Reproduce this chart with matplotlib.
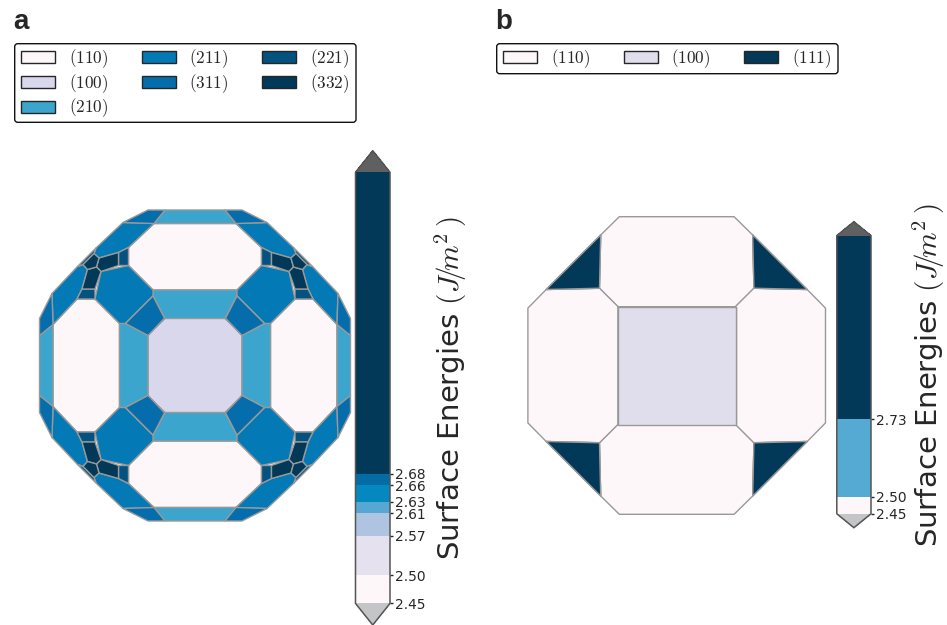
import matplotlib
matplotlib.use("Agg")
import matplotlib.pyplot as plt
from matplotlib.patches import Patch, Polygon, FancyBboxPatch
from matplotlib.colors import ListedColormap, BoundaryNorm
from matplotlib.cm import ScalarMappable
from matplotlib.transforms import IdentityTransform

plt.rcParams['mathtext.fontset'] = 'cm'
plt.rcParams['font.family'] = 'DejaVu Sans'

W, H = 947, 625
INK = '#262626'
EDGE = '#999999'

# Facet colours
C110 = '#FDF7FA'
C100A = '#D8D7EB'
C100B = '#E0DEEC'
C210 = '#3BA5CD'
C211 = '#037AB6'
C311 = '#056DAB'
C221 = '#03527F'
C332 = '#023858'
C111 = '#023858'

# Panel a facets: one representative of each facet (upper-left region),
# the others follow from the mirror symmetry of the crystal shape.
a_faces = [
    (C110, [(-41, 142), (41, 142), (66.5, 118), (66.5, 100), (42, 75.5), (-42, 75.5), (-66.5, 100), (-66.5, 118)]),
    (C100A, [(-30, 47), (30, 47), (47.3, 30.5), (47.3, -30.5), (30, -47), (-30, -47), (-47.3, -30.5), (-47.3, 30.5)]),
    (C210, [(-42, 75.5), (42, 75.5), (42, 69.5), (30, 47), (-30, 47), (-42, 69.5)]),
    (C210, [(-41, 142), (41, 142), (30, 155.5), (-30, 155.5)]),
    (C211, [(-66.5, 100), (-42, 75.5), (-42, 69.5), (-69.5, 42), (-75.5, 42), (-100, 66.5), (-94, 94)]),
    (C211, [(-72, 143), (-41, 142), (-66.5, 118), (-76.5, 113), (-96, 107.5), (-101, 112), (-99, 117.5)]),
    (C311, [(-42, 69.5), (-30, 47), (-47.3, 30.5), (-69.5, 42)]),
    (C311, [(-72, 143), (-47, 155.5), (-30, 155.5), (-41, 142)]),
    (C221, [(-76.5, 113), (-66.5, 118), (-66.5, 100), (-76.5, 100)]),
    (C221, [(-99, 117.5), (-101, 112), (-112, 101), (-117.5, 99)]),
    (C332, [(-96, 107.5), (-76.5, 113), (-76.5, 100), (-94, 94), (-98.5, 98.5)]),
    (C332, [(-112, 101), (-101, 112), (-96, 107.5), (-98.5, 98.5), (-107.5, 96)]),
]

# Panel b facets
b_faces = [
    (C110, [(-57.4, 148.8), (57.4, 148.8), (76, 130.5), (77.3, 77.2), (59, 58.8), (-59, 58.8), (-77.3, 77.2), (-76, 130.5)]),
    (C100B, [(-59, 58.8), (59, 58.8), (59, -58.8), (-59, -58.8)]),
    (C111, [(-76, 130.5), (-77.3, 77.2), (-130.5, 76)]),
]

# Legends
a_legend_labels = ['(110)', '(100)', '(210)', '(211)', '(311)', '(221)', '(332)']
a_legend_colors = [C110, C100A, C210, C211, C311, C221, C332]
b_legend_labels = ['(110)', '(100)', '(111)']
b_legend_colors = [C110, C100B, C111]

# Colour bars
a_bounds = [2.45, 2.50, 2.57, 2.61, 2.63, 2.66, 2.68, 3.215]
a_colors = ['#FDF7FA', '#E5E1EF', '#AEC4E0', '#56A8D2', '#0488C0', '#056BA5', '#023858']
a_ticks = [2.45, 2.50, 2.57, 2.61, 2.63, 2.66, 2.68]
b_bounds = [2.45, 2.50, 2.73, 3.275]
b_colors = ['#FDF7FA', '#55AAD3', '#023858']
b_ticks = [2.45, 2.50, 2.73]
UNDER = '#C4C5C7'
OVER = '#606060'
LABEL = r'Surface Energies $(J\!/\!m^{2}\,)$'


def rect(x0, y0, x1, y1):
    """Pixel box (top-left origin) to figure fractions."""
    return [x0 / W, 1 - y1 / H, (x1 - x0) / W, (y1 - y0) / H]


def orbit(pts):
    ops = [lambda x, y: (x, y), lambda x, y: (-x, y), lambda x, y: (x, -y), lambda x, y: (-x, -y),
           lambda x, y: (y, x), lambda x, y: (-y, x), lambda x, y: (y, -x), lambda x, y: (-y, -x)]
    seen = set()
    out = []
    for op in ops:
        p = [op(x, y) for x, y in pts]
        key = frozenset(p)
        if key not in seen:
            seen.add(key)
            out.append(p)
    return out


def draw_shape(ax, faces):
    for color, pts in faces:
        for p in orbit(pts):
            ax.add_patch(Polygon(p, closed=True, facecolor=color, edgecolor=EDGE,
                                 linewidth=1.0, joinstyle='round'))
    ax.set_xlim(-165, 165)
    ax.set_ylim(-165, 165)
    ax.set_aspect('equal')
    ax.axis('off')


def colorbar(fig, box, bounds, colors, ticks, pad):
    cax = fig.add_axes(rect(*box))
    cmap = ListedColormap(colors)
    cmap.set_under(UNDER)
    cmap.set_over(OVER)
    norm = BoundaryNorm(bounds, cmap.N)
    cb = fig.colorbar(ScalarMappable(norm=norm, cmap=cmap), cax=cax, extend='both',
                      spacing='proportional', ticks=ticks)
    cb.set_ticklabels([f'{t:.2f}' for t in ticks])
    cb.ax.minorticks_off()
    cb.ax.tick_params(length=2.5, width=1, color=INK, labelcolor=INK, labelsize=9.9, pad=1.2)
    cb.outline.set_edgecolor('#555555')
    cb.outline.set_linewidth(1.1)
    cb.set_label(LABEL, fontsize=21, color=INK, labelpad=pad)
    return cb


def legend(fig, labels, colors, anchor, frame):
    x0, y0, x1, y1 = frame
    fig.add_artist(FancyBboxPatch((x0, H - y1), x1 - x0, y1 - y0,
                                  boxstyle='round,pad=0,rounding_size=3',
                                  facecolor='white', edgecolor='#111111', linewidth=1.0,
                                  transform=IdentityTransform()))
    handles = [Patch(facecolor=c, edgecolor=INK, linewidth=1.0) for c in colors]
    leg = fig.legend(handles, [f'${s}$' for s in labels], ncol=3, fontsize=12.3, loc='upper left',
                     bbox_to_anchor=(anchor[0] / W, 1 - anchor[1] / H), borderaxespad=0,
                     frameon=False, labelspacing=0.11, columnspacing=1.97)
    for t in leg.get_texts():
        t.set_color(INK)
    return leg


fig = plt.figure(figsize=(W / 100, H / 100), dpi=100, facecolor='white')

ax_a = fig.add_axes(rect(195 - 165, 365.5 - 165, 195 + 165, 365.5 + 165))
draw_shape(ax_a, a_faces)
ax_b = fig.add_axes(rect(676.7 - 165, 365.5 - 165, 676.7 + 165, 365.5 + 165))
draw_shape(ax_b, b_faces)

colorbar(fig, (355.5, 150.7, 390, 625), a_bounds, a_colors, a_ticks, 5)
colorbar(fig, (836.8, 221.7, 871, 527.7), b_bounds, b_colors, b_ticks, 3)

legend(fig, a_legend_labels, a_legend_colors, (14.2, 40.7), (14.7, 43.7, 356, 122.3))
legend(fig, b_legend_labels, b_legend_colors, (496.2, 40.7), (496.7, 43.7, 838, 73.7))

letter = dict(family='Liberation Sans', fontweight='bold', fontsize=20, color=INK, va='baseline')
fig.text(13 / W, 1 - 29 / H, 'a', **letter)
fig.text(495 / W, 1 - 29 / H, 'b', **letter)

fig.savefig('out.png', dpi=100)
